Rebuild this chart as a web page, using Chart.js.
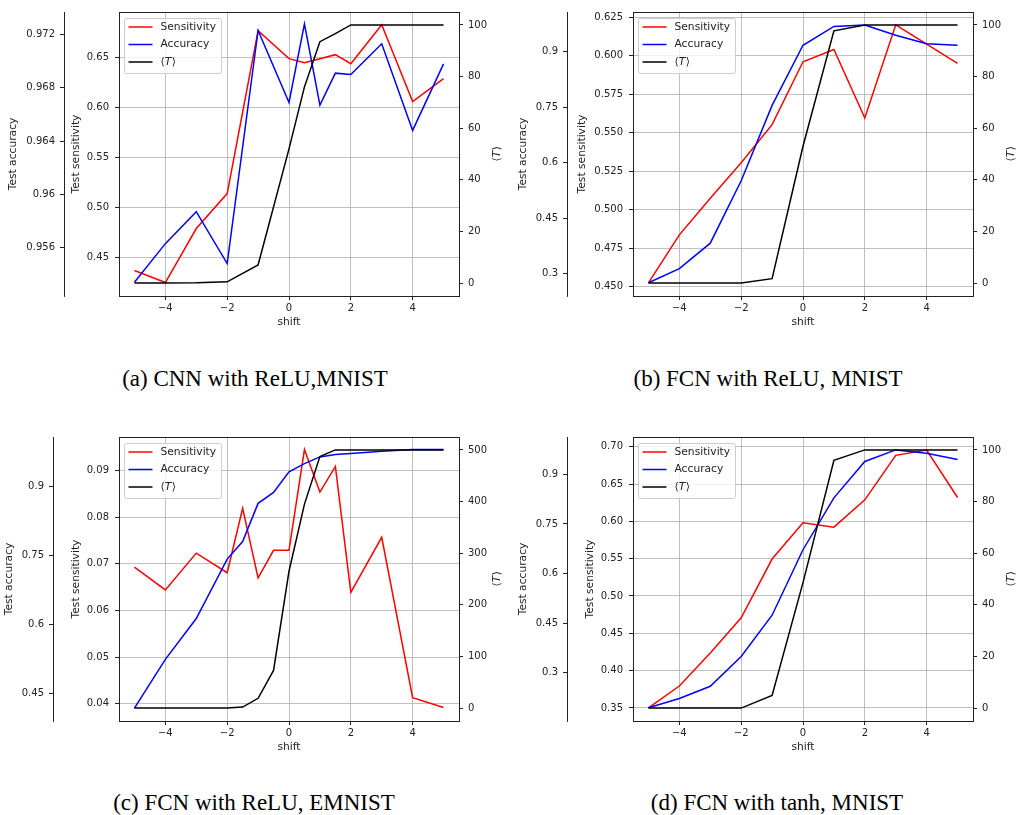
<!DOCTYPE html>
<html>
<head>
<meta charset="utf-8">
<script src="https://cdn.jsdelivr.net/npm/chart.js@4.4.1/dist/chart.umd.min.js"></script>
<style>
	body { margin: 0; background: #fff; width: 1017px; height: 815px; position: relative; overflow: hidden; }
	canvas { position: absolute; }
	.cap { position: absolute; width: 400px; text-align: center; white-space: nowrap;
		font: 23px 'Liberation Serif', 'Times New Roman', serif; line-height: 26px; color: #000; }
</style>
</head>
<body>
<canvas id="chartA" width="505" height="340" style="left:0;top:0;width:505px;height:340px"></canvas>
<canvas id="chartB" width="512" height="340" style="left:505px;top:0;width:512px;height:340px"></canvas>
<canvas id="chartC" width="505" height="340" style="left:0;top:425px;width:505px;height:340px"></canvas>
<canvas id="chartD" width="512" height="340" style="left:505px;top:425px;width:512px;height:340px"></canvas>
<div class="cap" style="left:55px;top:366px">(a) CNN with ReLU,MNIST</div>
<div class="cap" style="left:568px;top:366px">(b) FCN with ReLU, MNIST</div>
<div class="cap" style="left:54px;top:790px">(c) FCN with ReLU, EMNIST</div>
<div class="cap" style="left:577px;top:790px">(d) FCN with tanh, MNIST</div>
<script>
// shared x axis
const xTicks = [-4, -2, 0, 2, 4];
const xLim = [-5.5, 5.5];

// (a) CNN with ReLU, MNIST
const shiftA = [-5, -4, -3, -2, -1, 0, 0.5, 1, 1.5, 2, 3, 4, 5];
const sensA = [0.437, 0.425, 0.479, 0.514, 0.677, 0.649, 0.645, 0.649, 0.653, 0.644, 0.683, 0.606, 0.629];
const accA = [0.9534, 0.9563, 0.9587, 0.9548, 0.9723, 0.9669, 0.9728, 0.9667, 0.9691, 0.9690, 0.9713, 0.9648, 0.9698];
const tempA = [0, 0, 0.1, 0.5, 7, 52, 76, 93.5, 96.6, 100, 100, 100, 100];
const sensTicksA = ['0.45', '0.50', '0.55', '0.60', '0.65'];
const accTicksA = ['0.956', '0.96', '0.964', '0.968', '0.972'];
const tempTicksA = ['0', '20', '40', '60', '80', '100'];
const sensLimA = [0.4115, 0.6957];
const accLimA = [0.95237, 0.97369];
const tempLimA = [-5, 105];

// (b) FCN with ReLU, MNIST
const shiftB = [-5, -4, -3, -2, -1, 0, 1, 2, 3, 4, 5];
const sensB = [0.4525, 0.4837, 0.5075, 0.5305, 0.5552, 0.596, 0.604, 0.5595, 0.620, 0.6075, 0.595];
const accB = [0.275, 0.313, 0.382, 0.551, 0.755, 0.918, 0.969, 0.973, 0.945, 0.922, 0.918];
const tempB = [0, 0, 0, 0, 1.7, 53, 97.7, 100, 100, 100, 100];
const sensTicksB = ['0.450', '0.475', '0.500', '0.525', '0.550', '0.575', '0.600', '0.625'];
const accTicksB = ['0.3', '0.45', '0.6', '0.75', '0.9'];
const tempTicksB = ['0', '20', '40', '60', '80', '100'];
const sensLimB = [0.444, 0.6283];
const accLimB = [0.239, 1.008];
const tempLimB = [-5, 105];

// (c) FCN with ReLU, EMNIST
const shiftC = [-5, -4, -3, -2, -1.5, -1, -0.5, 0, 0.5, 1, 1.5, 2, 3, 4, 5];
const sensC = [0.0693, 0.0644, 0.0723, 0.0681, 0.0819, 0.0670, 0.0729, 0.0729, 0.0945, 0.0854, 0.0909, 0.0639, 0.0757, 0.0413, 0.0392];
const accC = [0.4176, 0.5237, 0.6126, 0.7418, 0.7801, 0.8632, 0.887, 0.9318, 0.9498, 0.9643, 0.9693, 0.9715, 0.9766, 0.9802, 0.9802];
const tempC = [0, 0, 0, 0, 2, 19, 73, 265, 395, 487, 500, 500, 500, 500, 500];
const sensTicksC = ['0.04', '0.05', '0.06', '0.07', '0.08', '0.09'];
const accTicksC = ['0.45', '0.6', '0.75', '0.9'];
const tempTicksC = ['0', '100', '200', '300', '400', '500'];
const sensLimC = [0.0363, 0.0972];
const accLimC = [0.3895, 1.0076];
const tempLimC = [-25, 525];

// (d) FCN with tanh, MNIST
const shiftD = [-5, -4, -3, -2, -1, 0, 1, 2, 3, 4, 5];
const sensD = [0.35, 0.3794, 0.4235, 0.4707, 0.5495, 0.598, 0.5922, 0.6288, 0.6884, 0.6955, 0.6319];
const accD = [0.194, 0.222, 0.259, 0.349, 0.474, 0.672, 0.829, 0.939, 0.974, 0.964, 0.945];
const tempD = [0, 0, 0, 0, 4.9, 48.6, 96, 100, 100, 100, 100];
const sensTicksD = ['0.35', '0.40', '0.45', '0.50', '0.55', '0.60', '0.65', '0.70'];
const accTicksD = ['0.3', '0.45', '0.6', '0.75', '0.9'];
const tempTicksD = ['0', '20', '40', '60', '80', '100'];
const sensLimD = [0.3325, 0.713];
const accLimD = [0.154, 1.013];
const tempLimD = [-5, 105];

const FONT = { family: "'DejaVu Sans', sans-serif", size: 10 };
const LABEL_FONT = { family: "'DejaVu Sans', sans-serif", size: 10.7 };
const INK = '#222';
const GRID = '#b0b0b0';

// draws "⟨T⟩" with an italic T
function drawMathT(ctx, x, y, align) {
	const normal = "10.7px 'DejaVu Sans', sans-serif";
	const italic = "italic 10.7px 'DejaVu Sans', sans-serif";
	ctx.font = normal;
	const wl = ctx.measureText('\u27E8').width;
	const wr = ctx.measureText('\u27E9').width;
	ctx.font = italic;
	const wt = ctx.measureText('T').width;
	let start = align == 'center' ? x - (wl + wt + wr) / 2 : x;
	ctx.textAlign = 'left';
	ctx.textBaseline = 'middle';
	ctx.font = normal;
	ctx.fillText('\u27E8', start, y);
	ctx.font = italic;
	ctx.fillText('T', start + wl, y);
	ctx.font = normal;
	ctx.fillText('\u27E9', start + wl + wt + 0.5, y);
}

const decorPlugin = {
	id: 'decor',
	afterDraw(chart) {
		const { ctx, chartArea: a } = chart;
		ctx.save();
		// top spine
		ctx.strokeStyle = INK;
		ctx.lineWidth = 1;
		ctx.beginPath();
		ctx.moveTo(a.left, Math.round(a.top) + 0.5);
		ctx.lineTo(a.right, Math.round(a.top) + 0.5);
		ctx.stroke();

		// legend box
		const bx = Math.round(a.left) + 5.5, by = Math.round(a.top) + 6.5, bw = 97, bh = 55;
		ctx.fillStyle = 'rgba(255,255,255,0.8)';
		ctx.strokeStyle = '#cccccc';
		ctx.beginPath();
		ctx.roundRect(bx, by, bw, bh, 2);
		ctx.fill();
		ctx.stroke();
		chart.data.datasets.forEach((ds, i) => {
			const y = by + 8.5 + i * 17.5;
			ctx.strokeStyle = ds.borderColor;
			ctx.lineWidth = 1.5;
			ctx.beginPath();
			ctx.moveTo(bx + 4, y);
			ctx.lineTo(bx + 28, y);
			ctx.stroke();
			ctx.fillStyle = INK;
			if (ds.label == '\u27E8T\u27E9') {
				drawMathT(ctx, bx + 36, y, 'left');
			} else {
				ctx.font = "10.7px 'DejaVu Sans', sans-serif";
				ctx.textAlign = 'left';
				ctx.textBaseline = 'middle';
				ctx.fillText(ds.label, bx + 36, y);
			}
		});

		// right axis title, reading bottom to top
		ctx.translate(a.right + 38, (a.top + a.bottom) / 2);
		ctx.rotate(-Math.PI / 2);
		ctx.fillStyle = INK;
		drawMathT(ctx, 0, 0, 'center');
		ctx.restore();
	},
};

function yAxis(position, weight, lim, ticks, title, titlePad, width, onArea, pad) {
	return {
		type: 'linear',
		position: position,
		weight: weight,
		min: lim[0],
		max: lim[1],
		afterBuildTicks: (s) => {
			s.ticks = ticks.map((t) => ({ value: Number(t) }));
		},
		afterFit: (s) => {
			s.width = width;
		},
		ticks: { font: FONT, color: INK, padding: pad, autoSkip: false, callback: (v, i) => ticks[i] },
		grid: {
			display: true,
			drawOnChartArea: onArea,
			color: GRID,
			lineWidth: 0.8,
			tickColor: INK,
			tickWidth: 1,
			tickLength: 4,
		},
		border: { display: true, color: INK, width: 1 },
		title: title
			? { display: true, text: title, font: LABEL_FONT, color: INK, padding: { top: titlePad, bottom: 0 } }
			: { display: false },
	};
}

function makeChart(id, p, layout) {
	const pts = (ys) => p.shift.map((x, i) => ({ x: x, y: ys[i] }));
	return new Chart(document.getElementById(id), {
		type: 'line',
		data: {
			datasets: [
				{ label: 'Sensitivity', data: pts(p.sens), yAxisID: 'sens', borderColor: '#ff0000', order: 3 },
				{ label: 'Accuracy', data: pts(p.acc), yAxisID: 'acc', borderColor: '#0000ff', order: 2 },
				{ label: '\u27E8T\u27E9', data: pts(p.temp), yAxisID: 'temp', borderColor: '#000000', order: 1 },
			],
		},
		options: {
			responsive: false,
			animation: false,
			devicePixelRatio: 1,
			layout: { padding: { top: 10, left: 0, right: 0, bottom: 0 } },
			elements: {
				line: { tension: 0, borderWidth: 1.5, fill: false },
				point: { radius: 0, hoverRadius: 0 },
			},
			scales: {
				x: {
					type: 'linear',
					position: 'bottom',
					min: xLim[0],
					max: xLim[1],
					afterBuildTicks: (s) => {
						s.ticks = xTicks.map((v) => ({ value: v }));
					},
					afterFit: (s) => {
						s.height = 44;
					},
					ticks: {
						font: FONT,
						color: INK,
						padding: 2,
						autoSkip: false,
						maxRotation: 0,
						callback: (v) => String(v).replace('-', '\u2212'),
					},
					grid: { color: GRID, lineWidth: 0.8, tickColor: INK, tickWidth: 1, tickLength: 4 },
					border: { display: true, color: INK, width: 1 },
					title: { display: true, text: 'shift', font: LABEL_FONT, color: INK, padding: { top: 0, bottom: 11 } },
				},
				acc: yAxis('left', 2, p.accLim, p.accTicks, 'Test accuracy', layout.accPad, layout.accW, false, 5),
				sens: yAxis('left', 1, p.sensLim, p.sensTicks, 'Test sensitivity', layout.sensPad, layout.sensW, true, 6),
				temp: yAxis('right', 1, p.tempLim, p.tempTicks, null, 0, layout.tempW, false, 5),
			},
			plugins: {
				legend: { display: false },
				tooltip: { enabled: false },
			},
			events: [],
		},
		plugins: [decorPlugin],
	});
}

makeChart(
	'chartA',
	{ shift: shiftA, sens: sensA, acc: accA, temp: tempA, sensTicks: sensTicksA, accTicks: accTicksA,
		tempTicks: tempTicksA, sensLim: sensLimA, accLim: accLimA, tempLim: tempLimA },
	{ accW: 64, sensW: 55, tempW: 46, accPad: 7, sensPad: 6 }
);
makeChart(
	'chartB',
	{ shift: shiftB, sens: sensB, acc: accB, temp: tempB, sensTicks: sensTicksB, accTicks: accTicksB,
		tempTicks: tempTicksB, sensLim: sensLimB, accLim: accLimB, tempLim: tempLimB },
	{ accW: 62, sensW: 66, tempW: 44, accPad: 12, sensPad: 9 }
);
makeChart(
	'chartC',
	{ shift: shiftC, sens: sensC, acc: accC, temp: tempC, sensTicks: sensTicksC, accTicks: accTicksC,
		tempTicks: tempTicksC, sensLim: sensLimC, accLim: accLimC, tempLim: tempLimC },
	{ accW: 53, sensW: 66, tempW: 46, accPad: 3, sensPad: 17 }
);
makeChart(
	'chartD',
	{ shift: shiftD, sens: sensD, acc: accD, temp: tempD, sensTicks: sensTicksD, accTicks: accTicksD,
		tempTicks: tempTicksD, sensLim: sensLimD, accLim: accLimD, tempLim: tempLimD },
	{ accW: 62, sensW: 66, tempW: 44, accPad: 12, sensPad: 17 }
);
</script>
</body>
</html>
